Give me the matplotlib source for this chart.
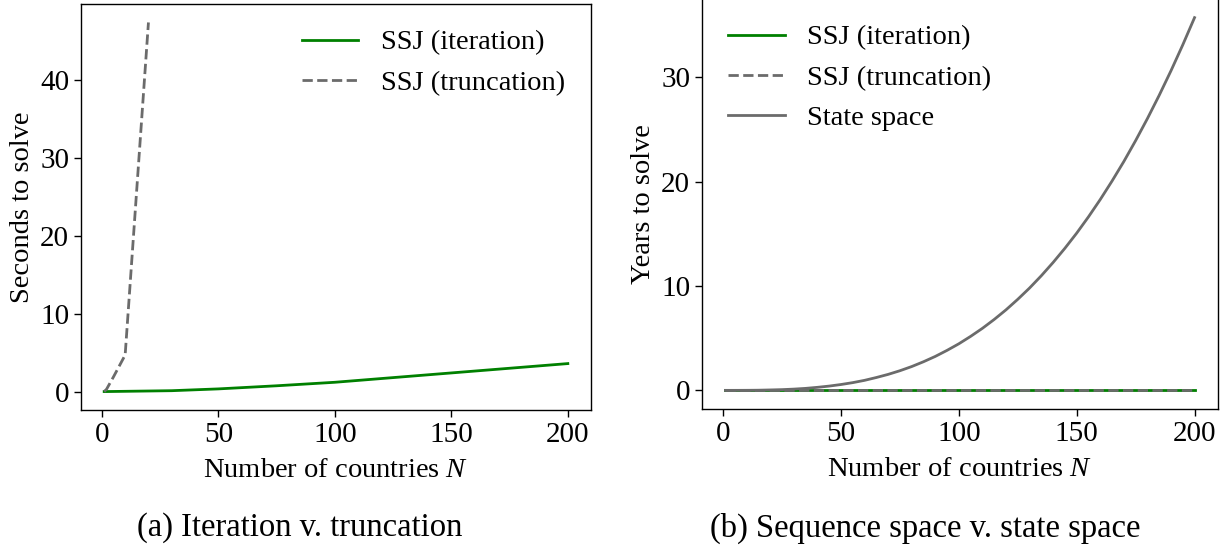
import matplotlib
matplotlib.use("Agg")
import matplotlib.pyplot as plt

plt.rcParams["font.family"] = ["Liberation Serif", "DejaVu Serif"]
plt.rcParams["mathtext.fontset"] = "custom"
plt.rcParams["mathtext.rm"] = "Liberation Serif"
plt.rcParams["mathtext.it"] = "Liberation Serif:italic"
plt.rcParams["font.size"] = 20.5

# Solve times in seconds for the multi-country model
iter_n = [1, 2, 5, 10, 20, 30, 50, 75, 100, 150, 200]
iter_seconds = [0.01, 0.01, 0.02, 0.04, 0.08, 0.12, 0.35, 0.75, 1.2, 2.4, 3.6]

trunc_n = [1, 2, 5, 10, 20]
trunc_seconds = [0.01, 0.3, 1.9, 4.7, 47.4]

# Solve times in years
years_n = [1, 5, 10, 15, 20, 25, 30, 35, 40, 45, 50, 55, 60, 65, 70, 75, 80,
           85, 90, 95, 100, 105, 110, 115, 120, 125, 130, 135, 140, 145, 150,
           155, 160, 165, 170, 175, 180, 185, 190, 195, 200]
iter_years = [0.0] * len(years_n)
trunc_years = [0.0] * len(years_n)
state_years = [0.0, 0.001, 0.005, 0.015, 0.04, 0.07, 0.12, 0.19, 0.29, 0.41,
               0.56, 0.74, 0.96, 1.23, 1.53, 1.88, 2.28, 2.74, 3.25, 3.83,
               4.46, 5.17, 5.94, 6.79, 7.71, 8.72, 9.80, 10.98, 12.25, 13.61,
               15.06, 16.62, 18.28, 20.05, 21.92, 23.92, 26.03, 28.26, 30.61,
               33.09, 35.7]

green = "#008000"
grey = "#6b6b6b"

fig = plt.figure(figsize=(12.25, 5.5), dpi=100)
W, H = 1225, 550

def axes_px(x0, y0, x1, y1):
    return fig.add_axes([x0 / W, 1 - y1 / H, (x1 - x0) / W, (y1 - y0) / H])

ax1 = axes_px(81, 4, 591, 410)
ax1.plot(iter_n, iter_seconds, color=green, lw=2, label="SSJ (iteration)")
ax1.plot(trunc_n, trunc_seconds, color=grey, lw=2, ls="--", label="SSJ (truncation)")
ax1.set_xticks([0, 50, 100, 150, 200])
ax1.set_yticks([0, 10, 20, 30, 40])
ax1.set_xlabel("Number of countries $N$", labelpad=7)
ax1.set_ylabel("Seconds to solve")
ax1.legend(loc="upper right", frameon=False, handlelength=2.0)

ax2 = axes_px(702, -1, 1218, 409)
ax2.plot(years_n, iter_years, color=green, lw=2, label="SSJ (iteration)")
ax2.plot(years_n, trunc_years, color=grey, lw=2, ls="--", label="SSJ (truncation)")
ax2.plot(years_n, state_years, color=grey, lw=2, label="State space")
ax2.set_xticks([0, 50, 100, 150, 200])
ax2.set_yticks([0, 10, 20, 30])
ax2.set_xlabel("Number of countries $N$", labelpad=7)
ax2.set_ylabel("Years to solve")
ax2.legend(loc="upper left", frameon=False, handlelength=2.0)

for ax in (ax1, ax2):
    ax.tick_params(length=5, width=1, labelsize=21)
    for s in ax.spines.values():
        s.set_linewidth(1)

fig.text(300 / W, 22 / H, "(a) Iteration v. truncation",
         ha="center", va="center", fontsize=23.5)
fig.text(925 / W, 22 / H, "(b) Sequence space v. state space",
         ha="center", va="center", fontsize=23.5)

fig.savefig("out.png", dpi=100)
